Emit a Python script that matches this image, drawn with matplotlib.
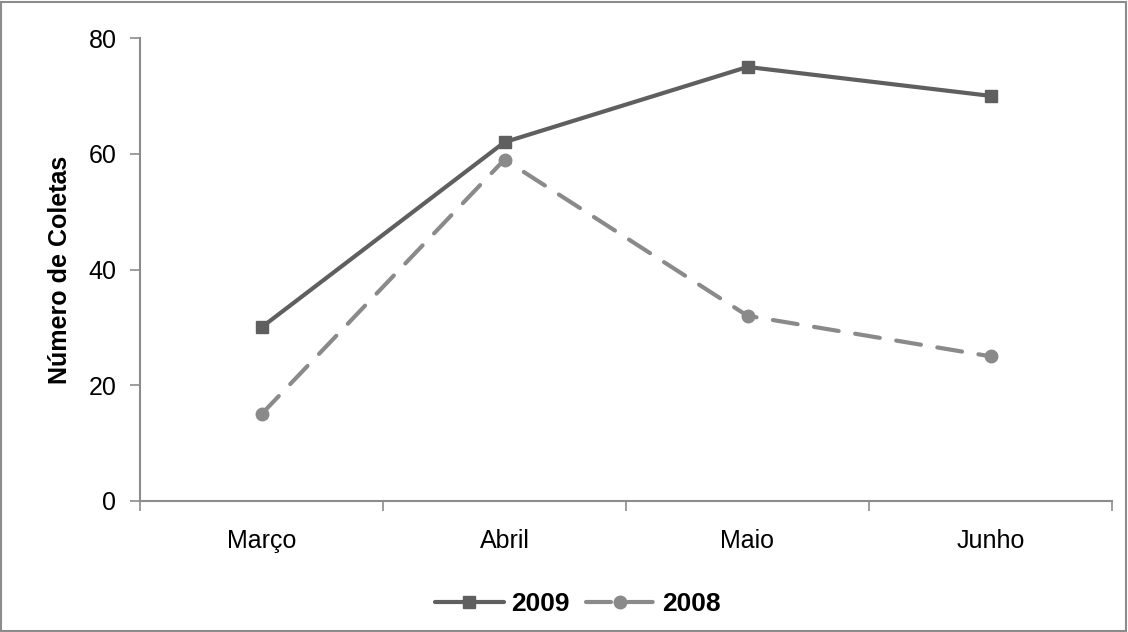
import matplotlib
matplotlib.use("Agg")
import matplotlib.pyplot as plt
from matplotlib.patches import Rectangle

months = ["Março", "Abril", "Maio", "Junho"]
coletas_2009 = [30, 62, 75, 70]
coletas_2008 = [15, 59, 32, 25]
y_ticks = [0, 20, 40, 60, 80]

plt.rcParams["font.family"] = ["Liberation Sans", "DejaVu Sans"]

W, H = 1128, 632
fig = plt.figure(figsize=(W / 100, H / 100), dpi=100)
fig.patches.append(Rectangle((1 / W, 1 / H), 1 - 3 / W, 1 - 3 / H, transform=fig.transFigure,
                             fill=False, edgecolor="#8c8c8c", linewidth=1.5))

left, right, top, bottom = 140, 1112, 38, 501
ax = fig.add_axes([left / W, 1 - bottom / H, (right - left) / W, (bottom - top) / H])

x = list(range(len(months)))
ax.plot(x, coletas_2009, color="#5f5f5f", linewidth=3, marker="s", markersize=9,
        label="2009", solid_capstyle="round")
ax.plot(x, coletas_2008, color="#8a8a8a", linewidth=3, marker="o", markersize=9,
        dashes=(6, 4), dash_capstyle="round", label="2008")

ax.set_xlim(-0.5, 3.5)
ax.set_ylim(0, 80)
ax.set_yticks(y_ticks)
ax.set_xticks(x)
ax.set_xticklabels(months)
ax.set_xticks([-0.5, 0.5, 1.5, 2.5, 3.5], minor=True)
ax.tick_params(axis="x", which="major", length=0, pad=20, labelsize=18)
ax.tick_params(axis="x", which="minor", length=7, color="#8c8c8c", width=1.2, direction="out")
ax.tick_params(axis="y", length=7, color="#8c8c8c", width=1.2, direction="out", labelsize=18, pad=10)

for s in ["top", "right"]:
    ax.spines[s].set_visible(False)
for s in ["left", "bottom"]:
    ax.spines[s].set_color("#8c8c8c")
    ax.spines[s].set_linewidth(1.5)

ax.set_ylabel("Número de Coletas", fontsize=18, fontweight="bold", labelpad=12)

fig.legend(loc="center", bbox_to_anchor=(578 / W, 1 - 604 / H), ncol=2, frameon=False,
           prop={"size": 19, "weight": "bold"}, handlelength=2.6, columnspacing=0.6,
           handletextpad=0.3)

fig.savefig("out.png", dpi=100)
